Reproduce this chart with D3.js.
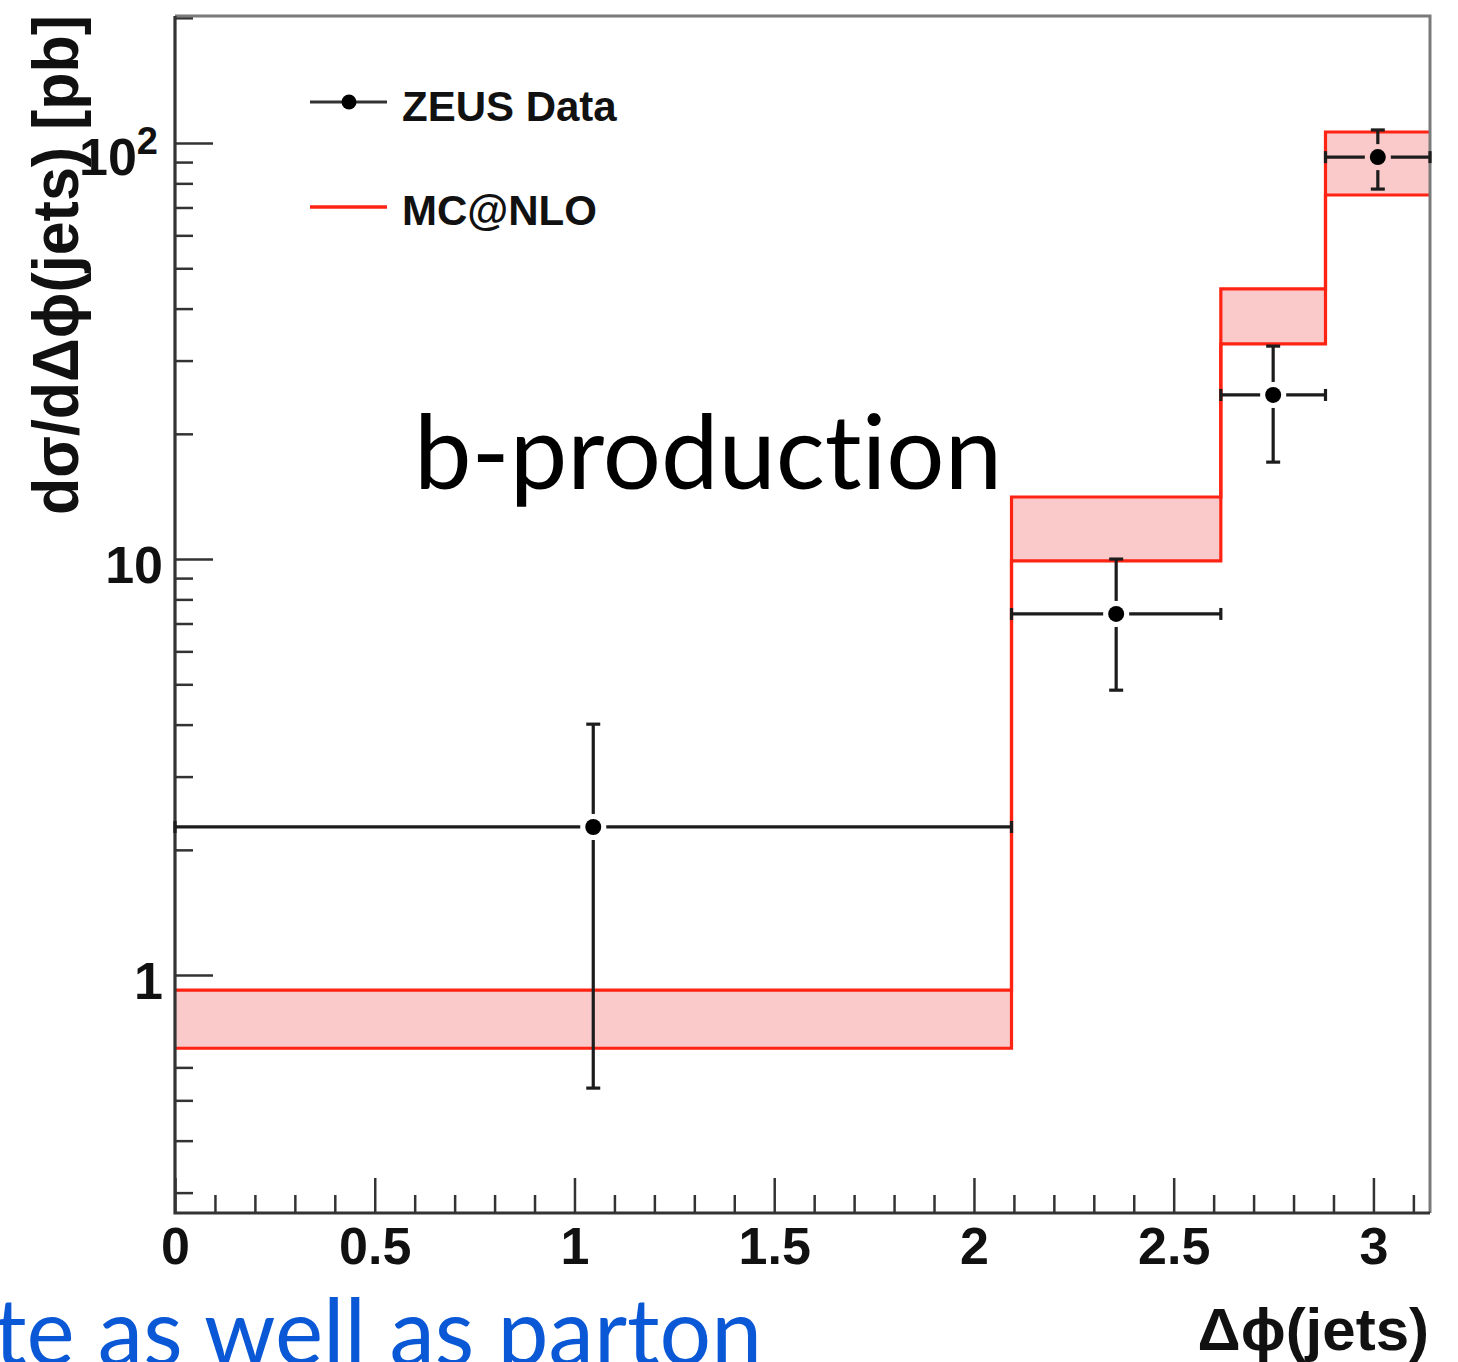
<!DOCTYPE html>
<html>
<head>
<meta charset="utf-8">
<script src="https://cdn.jsdelivr.net/npm/d3@7"></script>
<style>
  body { margin: 0; background: #fff; }
  svg { display: block; }
  .root-text { font-family: "Liberation Sans", Arial, sans-serif; font-weight: bold; fill: #111; }
  .slide-text { font-family: Lato, "Open Sans", sans-serif; font-variant-ligatures: none; font-feature-settings: "liga" 0, "clig" 0; }
</style>
</head>
<body>
<svg id="chart" width="1458" height="1362"></svg>
<script>
// bin edges of the delta-phi histogram
const binEdges = [0, 2.094, 2.618, 2.880, 3.1416];

// MC@NLO band (lower / upper edge per bin), pb
const mcLower = [0.667, 9.9, 32.9, 75.0];
const mcUpper = [0.92, 14.1, 44.6, 106.3];

// ZEUS data points
const dataX = [1.047, 2.356, 2.749, 3.011];
const dataY = [2.27, 7.38, 24.8, 92.5];
const dataLow = [0.535, 4.84, 17.1, 77.5];
const dataHigh = [4.01, 10.0, 32.5, 107.5];

const xMajorTicks = [0, 0.5, 1, 1.5, 2, 2.5, 3];
const xTickLabels = ['0', '0.5', '1', '1.5', '2', '2.5', '3'];
const yMajorTicks = [1, 10, 100];
const yTickLabels = ['1', '10', '10'];

const legendLabels = ['ZEUS Data', 'MC@NLO'];

const RED = '#ff2314';
const BAND = '#facaca';
const INK = '#1c1c1c';

const svg = d3.select('#chart');

const x = d3.scaleLinear().domain([0, 3.1416]).range([175, 1430]);
const y = d3.scaleLog().domain([0.268, 202]).range([1213, 16]);

// --- ticks (drawn first, band covers some of them) ---
const minorX = x.ticks(31).filter((t) => !xMajorTicks.some((m) => Math.abs(m - t) < 1e-6));
const minorY = y.ticks().filter((t) => !yMajorTicks.includes(t));

const gxMinor = svg.append('g').attr('transform', 'translate(0,1213)')
  .call(d3.axisBottom(x).tickValues(minorX).tickSize(-18).tickFormat(''));
const gxMajor = svg.append('g').attr('transform', 'translate(0,1213)')
  .call(d3.axisBottom(x).tickValues(xMajorTicks).tickSize(-35).tickPadding(14)
    .tickFormat((d, i) => xTickLabels[i]));

const gyMinor = svg.append('g').attr('transform', 'translate(175,0)')
  .call(d3.axisLeft(y).tickValues(minorY).tickSize(-18).tickFormat(''));
const gyMajor = svg.append('g').attr('transform', 'translate(175,0)')
  .call(d3.axisLeft(y).tickValues(yMajorTicks).tickSize(-38).tickPadding(12)
    .tickFormat((d, i) => yTickLabels[i]));

[gxMinor, gxMajor, gyMinor, gyMajor].forEach((g) => {
  g.select('.domain').remove();
  g.selectAll('line').attr('stroke', '#333').attr('stroke-width', 2.5);
  g.selectAll('text')
    .attr('class', 'root-text')
    .attr('font-size', 52)
    .attr('fill', '#111');
});

gyMajor.selectAll('text').attr('dy', '0.45em');
// 10^2 label with superscript
gyMajor.selectAll('.tick').filter((d) => d === 100).select('text')
  .attr('dy', '0.6em')
  .attr('x', -17)
  .call((t) => t.append('tspan').attr('font-size', 38).attr('dy', -21).text('2'));

// --- MC@NLO band ---
const nBins = mcLower.length;
const mcPts = binEdges.map((e, i) => ({
  x: e,
  lo: mcLower[Math.min(i, nBins - 1)],
  hi: mcUpper[Math.min(i, nBins - 1)],
}));

svg.append('path')
  .datum(mcPts)
  .attr('fill', BAND)
  .attr('d', d3.area().x((d) => x(d.x)).y0((d) => y(d.lo)).y1((d) => y(d.hi)).curve(d3.curveStepAfter));

const stepLine = (key) => d3.line().x((d) => x(d.x)).y((d) => y(d[key])).curve(d3.curveStepAfter);
['lo', 'hi'].forEach((key) => {
  svg.append('path')
    .datum(mcPts)
    .attr('fill', 'none')
    .attr('stroke', RED)
    .attr('stroke-width', 3.2)
    .attr('d', stepLine(key));
});

// --- frame ---
svg.append('path')
  .attr('fill', 'none')
  .attr('stroke', '#7a7a7a')
  .attr('stroke-width', 3)
  .attr('d', `M${x(0)},${y(202)}H${x(3.1416)}V${y(0.268)}`);
svg.append('path')
  .attr('fill', 'none')
  .attr('stroke', '#333')
  .attr('stroke-width', 3.2)
  .attr('d', `M${x(0)},${y(202)}V${y(0.268)}H${x(3.1416)}`);

// --- ZEUS data with error bars ---
const gap = 13;
const points = dataX.map((cx, i) => ({
  cx, cy: dataY[i], lo: dataLow[i], hi: dataHigh[i], x0: binEdges[i], x1: binEdges[i + 1],
}));
const pg = svg.append('g').attr('stroke', INK).attr('stroke-width', 3.2).attr('fill', 'none');
points.forEach((p) => {
  const px = x(p.cx), py = y(p.cy);
  const segs = [
    [x(p.x0), py, px - gap, py],
    [px + gap, py, x(p.x1), py],
    [px, y(p.hi), px, py - gap],
    [px, py + gap, px, y(p.lo)],
    // caps
    [px - 7, y(p.hi), px + 7, y(p.hi)],
    [px - 7, y(p.lo), px + 7, y(p.lo)],
    [x(p.x0), py - 6, x(p.x0), py + 6],
    [x(p.x1), py - 6, x(p.x1), py + 6],
  ];
  segs.forEach(([a, b, c, d]) => pg.append('line').attr('x1', a).attr('y1', b).attr('x2', c).attr('y2', d));
});
svg.append('g').selectAll('circle').data(points).join('circle')
  .attr('cx', (d) => x(d.cx))
  .attr('cy', (d) => y(d.cy))
  .attr('r', 8)
  .attr('fill', '#000');

// --- legend ---
const legend = svg.append('g');
legend.append('line').attr('x1', 310).attr('x2', 387).attr('y1', 102).attr('y2', 102)
  .attr('stroke', '#333').attr('stroke-width', 3);
legend.append('circle').attr('cx', 349).attr('cy', 102).attr('r', 7.5).attr('fill', '#000');
legend.append('line').attr('x1', 310).attr('x2', 387).attr('y1', 207).attr('y2', 207)
  .attr('stroke', RED).attr('stroke-width', 3.5);
legend.selectAll('text').data(legendLabels).join('text')
  .attr('class', 'root-text')
  .attr('x', 402)
  .attr('y', (d, i) => (i === 0 ? 121 : 225))
  .attr('font-size', 42)
  .text((d) => d);

// --- axis titles ---
svg.append('text')
  .attr('class', 'root-text')
  .attr('text-anchor', 'end')
  .attr('x', 1429)
  .attr('y', 1350)
  .attr('font-size', 60)
  .text('\u0394\u03d5(jets)');

svg.append('text')
  .attr('class', 'root-text')
  .attr('transform', 'translate(78,515) rotate(-90)')
  .attr('x', 0)
  .attr('y', 0)
  .attr('font-size', 64)
  .attr('textLength', 500)
  .attr('lengthAdjust', 'spacingAndGlyphs')
  .text('d\u03c3/d\u0394\u03d5(jets) [pb]');

// --- slide annotations ---
svg.append('text')
  .attr('class', 'slide-text')
  .attr('x', 414)
  .attr('y', 489)
  .attr('font-size', 102)
  .attr('fill', '#000')
  .attr('textLength', 588)
  .attr('lengthAdjust', 'spacingAndGlyphs')
  .text('b-production');

svg.append('text')
  .attr('class', 'slide-text')
  .attr('x', -6)
  .attr('y', 1365)
  .attr('font-size', 93)
  .attr('fill', '#0a58d6')
  .attr('textLength', 768)
  .attr('lengthAdjust', 'spacingAndGlyphs')
  .text('te as well as parton');
</script>
</body>
</html>
